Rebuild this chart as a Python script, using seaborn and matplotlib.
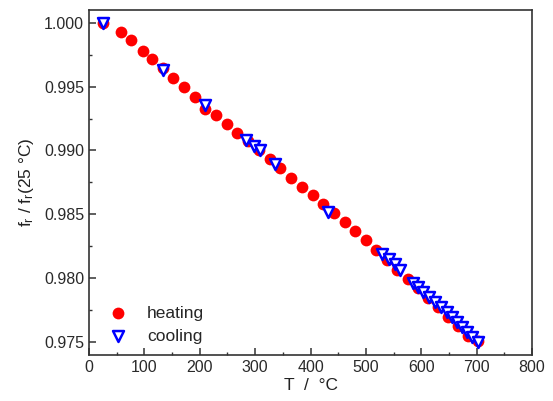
import numpy as np
import pandas as pd
import seaborn as sns
import matplotlib.pyplot as plt
from matplotlib.ticker import MultipleLocator, FormatStrFormatter

# heating run (red circles)
heat_T = [25, 57, 75, 98, 114, 134, 152, 172, 192, 210, 230, 250, 268, 287, 307,
          326, 345, 365, 385, 405, 422, 442, 462, 481, 500, 519, 538, 557, 576,
          595, 613, 631, 649, 667, 685, 703]
heat_f = [1.0000, 0.99929, 0.99864, 0.99778, 0.99715, 0.99647, 0.99569, 0.99498,
          0.99420, 0.99323, 0.99276, 0.99211, 0.99140, 0.99072, 0.99007, 0.98936,
          0.98860, 0.98787, 0.98714, 0.98654, 0.98582, 0.98510, 0.98439, 0.98368,
          0.98295, 0.98217, 0.98138, 0.98060, 0.97993, 0.97920, 0.97845, 0.97770,
          0.97695, 0.97620, 0.97548, 0.97505]

# cooling run (open blue triangles)
cool_T = [25, 134, 210, 284, 298, 309, 336, 432, 530, 541, 552, 562, 586, 595,
          604, 614, 625, 636, 646, 655, 665, 674, 683, 692, 702]
cool_f = [1.0000, 0.99634, 0.99354, 0.99080, 0.99035, 0.99001, 0.98892, 0.98517,
          0.98191, 0.98150, 0.98111, 0.98064, 0.97960, 0.97927, 0.97890, 0.97851,
          0.97811, 0.97774, 0.97735, 0.97695, 0.97656, 0.97617, 0.97578, 0.97539,
          0.97495]

heating = pd.DataFrame({'T': heat_T, 'f': heat_f})
cooling = pd.DataFrame({'T': cool_T, 'f': cool_f})

sns.set_style('ticks')
plt.rcParams['font.family'] = ['Liberation Sans', 'DejaVu Sans']
plt.rcParams['mathtext.default'] = 'regular'

fig = plt.figure(figsize=(5.53, 4.01), dpi=100)
ax = fig.add_axes([0.161, 0.115, 0.801, 0.86])

sns.scatterplot(data=heating, x='T', y='f', ax=ax, marker='o', color='#ff0000',
                s=72, linewidth=0, label='heating', zorder=3)
sns.scatterplot(data=cooling, x='T', y='f', ax=ax, marker='v', color='white',
                edgecolor='#0000ff', s=62, linewidth=1.8, label='cooling', zorder=4)

ax.set_xlim(0, 800)
ax.set_ylim(0.97396, 1.00102)
ax.xaxis.set_major_locator(MultipleLocator(100))
ax.xaxis.set_minor_locator(MultipleLocator(50))
ax.yaxis.set_major_locator(MultipleLocator(0.005))
ax.yaxis.set_minor_locator(MultipleLocator(0.0025))
ax.yaxis.set_major_formatter(FormatStrFormatter('%.3f'))

ax.tick_params(which='major', direction='in', length=5, width=1.1,
               labelsize=11.5, colors='#333333', labelcolor='#2a2a2a')
ax.tick_params(which='minor', direction='in', length=2.5, width=1.0, colors='#333333')
for sp in ax.spines.values():
    sp.set_visible(True)
    sp.set_color('#333333')
    sp.set_linewidth(1.2)

ax.set_xlabel('T  /  °C', fontsize=12.5, color='#222222', labelpad=2)
ax.set_ylabel(r'f$_{r}$ / f$_{r}$(25 °C)', fontsize=12.5, color='#222222', labelpad=6)

ax.legend(loc='lower left', bbox_to_anchor=(0.0, 0.0), frameon=False, fontsize=12.5,
          handletextpad=0.7, labelspacing=0.45, borderaxespad=0.25)

fig.savefig('out.png', dpi=100)
